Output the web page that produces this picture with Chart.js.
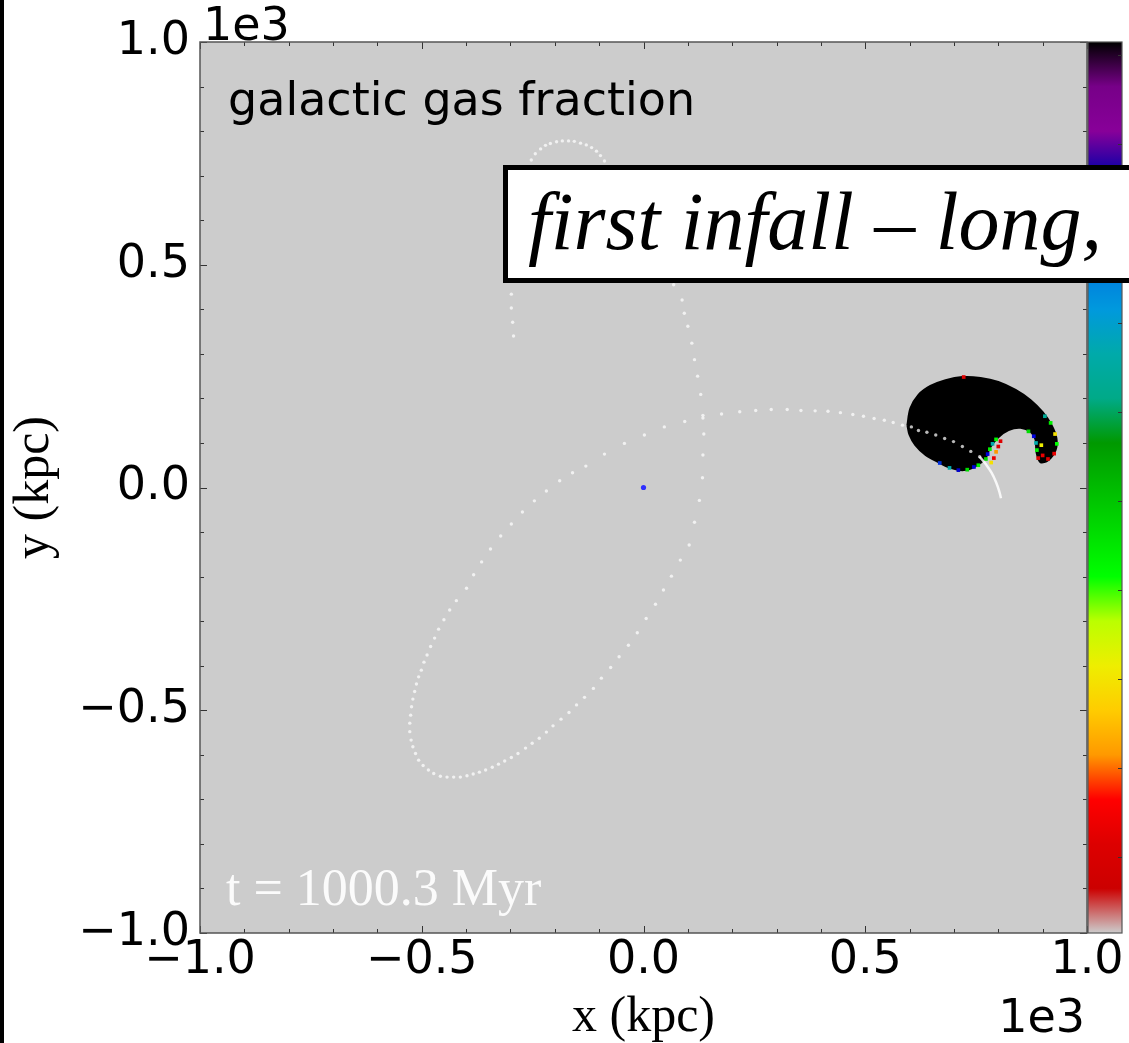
<!DOCTYPE html>
<html>
<head>
<meta charset="utf-8">
<title>galactic gas fraction</title>
<script src="https://cdn.jsdelivr.net/npm/chart.js@4.4.1/dist/chart.umd.min.js"></script>
<style>
  html, body { margin: 0; padding: 0; background: #fff; overflow: hidden; }
  #wrap { position: relative; width: 1129px; height: 1043px; overflow: hidden; }
  #chart { display: block; }
  #edge { position: absolute; left: 0; top: 0; width: 4px; height: 1043px; background: #000; }
  .callout {
    position: absolute; left: 503px; top: 165px; width: 700px; height: 118px;
    box-sizing: border-box; border: 5px solid #000; background: #fff;
  }
  .callout span {
    position: absolute; left: 20px; top: 11px; white-space: nowrap; color: #000;
    font: italic 82px/82px "Liberation Serif", serif;
  }
</style>
</head>
<body>
<div id="wrap">
  <canvas id="chart" width="1129" height="1043"></canvas>
  <div id="edge"></div>
  <div class="callout"><span>first infall – long,</span></div>
</div>
<script>
// axis ticks (data units, shown as multiples of 1e3)
const axisTicks = [-1000, -500, 0, 500, 1000];
const colorbarTicks = [0.085, 0.185, 0.285, 0.385, 0.485, 0.585, 0.685, 0.785, 0.885, 0.985];

// satellite orbit, sampled positions
const orbitX = [
  -293, -295, -298, -298, -295, -293, -289, -284, -280, -275, -271, -266, -259,
  -253, -244, -232, -221, -210, -196, -183, -169, -156, -142, -129, -117, -106, -97, -88,
  -74, -56, -36, -14, 9, 29, 50, 68,
  87, 92, 100, 109, 115, 122, 129, 134, 136, 134, 133, 126, 115, 103, 83, 63, 45,
  27, 6, -14, -34, -55, -74, -95, -113, -133, -151,
  -168, -186, -204, -219, -235, -251, -266, -283, -298, -313,
  -327, -341, -356, -370, -384, -398, -413, -428, -443, -458,
  -473, -485, -497, -507, -514, -520, -524, -527, -527, -525,
  -523, -520, -516, -512, -507, -501, -495, -488, -480, -471,
  -462, -450, -437, -422,
  -399, -383, -365, -345, -322, -298, -273, -246, -219, -189, -160,
  -130, -88, -43, 2, 47, 93, 134, 176, 217, 253,
  288, 324, 355, 387, 416, 444, 472, 496, 520, 543,
  563, 584, 604, 620, 639, 659, 679, 699, 719, 738, 758
];
const orbitY = [
  340, 371, 403, 434, 466, 499, 533, 567, 600, 634, 668, 697, 719,
  735, 749, 760, 768, 772, 776, 778, 778, 777, 773, 769, 763, 755, 745, 733,
  713, 686, 652, 614, 573, 533, 493, 455,
  421, 391, 362, 324, 287, 250, 209, 162, 120, 73, 22, -29, -78, -129, -163, -199, -230,
  -262, -294, -326, -354, -380, -404, -428, -451, -471, -488,
  -505, -520, -535, -549, -563, -574, -585, -597, -606, -614,
  -621, -628, -634, -639, -643, -647, -650, -650, -650, -648,
  -642, -634, -624, -612, -597, -582, -567, -548, -529, -511,
  -492, -475, -458, -441, -425, -410, -392, -376, -357, -338,
  -318, -297, -275, -254,
  -226, -196, -167, -138, -109, -82, -55, -30, -8, 15, 33,
  48, 75, 99, 118, 136, 148, 156, 165, 170, 173,
  175, 175, 173, 172, 171, 168, 164, 160, 155, 151,
  146, 140, 136, 128, 124, 118, 110, 103, 92, 81, 69
];

// short continuous track leaving the satellite
const trackX = [758, 772, 785, 795, 802, 806];
const trackY = [69, 52, 33, 12, -8, -24];

// outline of the dense satellite gas cloud
const blobX = [595, 602, 620, 647, 681, 719, 760, 800, 839, 873, 900, 920, 931, 929, 913, 895,
  886, 884, 873, 850, 823, 800, 782, 771, 749, 722, 692, 665, 636, 613, 600, 595];
const blobY = [140, 178, 208, 228, 241, 248, 246, 237, 219, 196, 169, 140, 111, 84, 62, 57,
  80, 107, 125, 134, 129, 113, 91, 66, 48, 39, 44, 57, 73, 95, 118, 140];

// mixed cells at the cloud edge, with their gas fraction
const edgeX = [795, 787, 781, 776, 772, 805, 800, 795, 790, 784,
  890, 887, 885, 880, 868, 900, 897,
  918, 928, 932, 926, 912, 905,
  745, 730, 710, 690, 668, 755,
  722];
const edgeY = [108, 98, 86, 75, 64, 104, 92, 80, 66, 56,
  66, 84, 100, 115, 126, 72, 95,
  145, 120, 98, 76, 64, 160,
  46, 40, 39, 44, 55, 50,
  248];
const edgeFrac = [0.4, 0.65, 0.42, 0.8, 0.45, 0.1, 0.1, 0.2, 0.12, 0.28,
  0.1, 0.42, 0.65, 0.8, 0.45, 0.12, 0.3,
  0.42, 0.28, 0.4, 0.12, 0.1, 0.62,
  0.8, 0.45, 0.82, 0.65, 0.78, 0.42,
  0.1];

// host galaxy centre
const hostX = [0];
const hostY = [0];

// nipy_spectral stops, every 0.05
const SPECTRAL = [
  [0, 0, 0], [0.4667, 0, 0.5333], [0.5333, 0, 0.6], [0, 0, 0.6667], [0, 0, 0.8667],
  [0, 0.4667, 0.8667], [0, 0.6, 0.8667], [0, 0.6667, 0.6667], [0, 0.6667, 0.5333], [0, 0.6, 0],
  [0, 0.7333, 0], [0, 0.8667, 0], [0, 1, 0], [0.7333, 1, 0], [0.9333, 0.9333, 0],
  [1, 0.8, 0], [1, 0.6, 0], [1, 0, 0], [0.8667, 0, 0], [0.8, 0, 0], [0.8, 0.8, 0.8]
];

function spectral(t) {
  t = Math.min(1, Math.max(0, t)) * (SPECTRAL.length - 1);
  const i = Math.min(SPECTRAL.length - 2, Math.floor(t));
  const f = t - i;
  const c = SPECTRAL[i].map((v, k) => Math.round(255 * (v + (SPECTRAL[i + 1][k] - v) * f)));
  return `rgb(${c[0]},${c[1]},${c[2]})`;
}
// fraction 1 is black (top of the bar), 0 is light grey
const fracColor = (v) => spectral(1 - v);

const pts = (xs, ys) => xs.map((x, i) => ({ x, y: ys[i] }));
const tickFmt = (v) => (v / 1000).toFixed(1).replace("-", "\u2212");

const FRAME = "#555";
const TICK = "#333";

// grey plot face
const plotFace = {
  id: "plotFace",
  beforeDatasetsDraw(chart) {
    const { ctx, chartArea: a } = chart;
    ctx.save();
    ctx.fillStyle = "#cccccc";
    ctx.fillRect(a.left, a.top, a.right - a.left, a.bottom - a.top);
    ctx.restore();
  },
};

// inward ticks on all four sides, frame, colour bar and text labels
const decorations = {
  id: "decorations",
  afterDraw(chart) {
    const { ctx, chartArea: a, scales } = chart;
    ctx.save();

    ctx.strokeStyle = TICK;
    ctx.lineWidth = 1;
    for (let v = -1000; v <= 1000; v += 100) {
      const len = v % 500 === 0 ? 7 : 4;
      const px = Math.round(scales.x.getPixelForValue(v)) + 0.5;
      const py = Math.round(scales.y.getPixelForValue(v)) + 0.5;
      ctx.beginPath();
      ctx.moveTo(px, a.bottom); ctx.lineTo(px, a.bottom - len);
      ctx.moveTo(px, a.top); ctx.lineTo(px, a.top + len);
      ctx.moveTo(a.left, py); ctx.lineTo(a.left + len, py);
      ctx.moveTo(a.right, py); ctx.lineTo(a.right - len, py);
      ctx.stroke();
    }

    ctx.strokeStyle = FRAME;
    ctx.lineWidth = 1.5;
    ctx.strokeRect(a.left, a.top, a.right - a.left, a.bottom - a.top);

    // colour bar
    const cx0 = a.right + 1, cx1 = a.right + 35;
    const grad = ctx.createLinearGradient(0, a.top, 0, a.bottom);
    SPECTRAL.forEach((_, i) => grad.addColorStop(i / (SPECTRAL.length - 1), spectral(i / (SPECTRAL.length - 1))));
    ctx.fillStyle = grad;
    ctx.fillRect(cx0, a.top, cx1 - cx0, a.bottom - a.top);
    ctx.strokeStyle = FRAME;
    ctx.lineWidth = 1.2;
    ctx.strokeRect(cx0, a.top, cx1 - cx0, a.bottom - a.top);
    ctx.strokeStyle = TICK;
    ctx.lineWidth = 1;
    colorbarTicks.forEach((v) => {
      const y = Math.round(a.bottom - v * (a.bottom - a.top)) + 0.5;
      ctx.beginPath();
      ctx.moveTo(cx1, y); ctx.lineTo(cx1 - 4, y);
      ctx.stroke();
    });

    // axis offset labels and annotations
    ctx.fillStyle = "#000";
    ctx.font = '46px "DejaVu Sans"';
    ctx.textBaseline = "alphabetic";
    ctx.textAlign = "left";
    ctx.fillText("1e3", a.left + 3, a.top - 2);
    ctx.fillText("galactic gas fraction", a.left + 28, a.top + 73);
    ctx.textAlign = "right";
    ctx.fillText("1e3", a.right - 2, a.bottom + 99);

    ctx.textAlign = "left";
    ctx.fillStyle = "rgba(255,255,255,0.92)";
    ctx.font = '52px "Liberation Serif"';
    ctx.fillText("t = 1000.3 Myr", a.left + 26, a.bottom - 28);

    ctx.restore();
  },
};

Chart.defaults.font.family = '"DejaVu Sans", sans-serif';

new Chart(document.getElementById("chart"), {
  type: "scatter",
  data: {
    datasets: [
      {
        label: "host",
        data: pts(hostX, hostY),
        pointRadius: 2.6,
        backgroundColor: "#2f2fff",
        borderWidth: 0,
        order: 1,
      },
      {
        label: "track",
        type: "line",
        data: pts(trackX, trackY),
        borderColor: "rgba(255,255,255,0.85)",
        borderWidth: 2.5,
        tension: 0.4,
        pointRadius: 0,
        fill: false,
        order: 2,
      },
      {
        label: "orbit",
        data: pts(orbitX, orbitY),
        pointRadius: 1.7,
        backgroundColor: "rgba(255,255,255,0.72)",
        borderWidth: 0,
        order: 3,
      },
      {
        label: "edge",
        data: pts(edgeX, edgeY),
        pointStyle: "rect",
        pointRadius: 2.6,
        backgroundColor: edgeFrac.map(fracColor),
        borderWidth: 0,
        order: 4,
      },
      {
        label: "cloud",
        type: "line",
        data: pts(blobX, blobY),
        borderColor: "#000",
        backgroundColor: "#000",
        borderWidth: 2,
        tension: 0.35,
        pointRadius: 0,
        fill: "shape",
        order: 5,
      },
    ],
  },
  options: {
    responsive: false,
    animation: false,
    events: [],
    layout: { padding: { top: 42, right: 42, left: 0, bottom: 0 } },
    plugins: { legend: { display: false }, tooltip: { enabled: false } },
    scales: {
      x: {
        type: "linear",
        min: -1000,
        max: 1000,
        afterBuildTicks: (s) => { s.ticks = axisTicks.map((value) => ({ value })); },
        afterFit: (s) => {
          s.height = 110;
          s.paddingLeft = 0;
          s.paddingRight = 0;
        },
        grid: { display: false, drawTicks: false },
        border: { display: false },
        ticks: {
          autoSkip: false,
          maxRotation: 0,
          padding: 0,
          color: "#000",
          font: { size: 46 },
          callback: tickFmt,
        },
        title: {
          display: true,
          text: "x (kpc)",
          color: "#000",
          font: { family: '"Liberation Serif", serif', size: 50, lineHeight: 1 },
          padding: { top: 0, bottom: 0 },
        },
      },
      y: {
        type: "linear",
        min: -1000,
        max: 1000,
        afterBuildTicks: (s) => { s.ticks = axisTicks.map((value) => ({ value })); },
        afterFit: (s) => {
          s.width = 200;
          s.paddingTop = 0;
          s.paddingBottom = 0;
        },
        grid: { display: false, drawTicks: false },
        border: { display: false },
        ticks: {
          autoSkip: false,
          padding: 10,
          color: "#000",
          font: { size: 46 },
          callback: tickFmt,
        },
        title: {
          display: true,
          text: "y (kpc)",
          color: "#000",
          font: { family: '"Liberation Serif", serif', size: 50, lineHeight: 1 },
          padding: { top: 10, bottom: 0 },
        },
      },
    },
  },
  plugins: [plotFace, decorations],
});
</script>
</body>
</html>
